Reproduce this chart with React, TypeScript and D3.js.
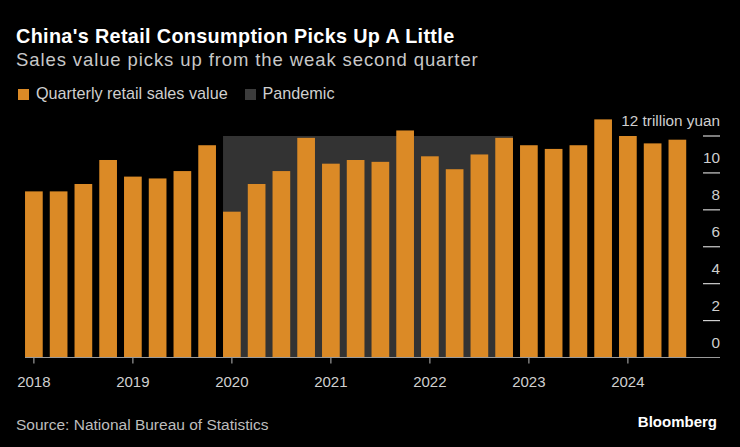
import React from "react";
import * as d3 from "d3";

const quarters: string[] = [
  "2018 Q1", "2018 Q2", "2018 Q3", "2018 Q4",
  "2019 Q1", "2019 Q2", "2019 Q3", "2019 Q4",
  "2020 Q1", "2020 Q2", "2020 Q3", "2020 Q4",
  "2021 Q1", "2021 Q2", "2021 Q3", "2021 Q4",
  "2022 Q1", "2022 Q2", "2022 Q3", "2022 Q4",
  "2023 Q1", "2023 Q2", "2023 Q3", "2023 Q4",
  "2024 Q1", "2024 Q2", "2024 Q3",
];

const salesValues: number[] = [
  9.0, 9.0, 9.4, 10.7,
  9.8, 9.7, 10.1, 11.5,
  7.9, 9.4, 10.1, 11.9,
  10.5, 10.7, 10.6, 12.3,
  10.9, 10.2, 11.0, 11.9,
  11.5, 11.3, 11.5, 12.9,
  12.0, 11.6, 11.8,
];

const yearTicks: string[] = ["2018", "2019", "2020", "2021", "2022", "2023", "2024"];
const yTickValues: number[] = [0, 2, 4, 6, 8, 10, 12];
const pandemicStart = "2020 Q1";
const pandemicEnd = "2022 Q4";
const pandemicTop = 12;

const W = 740;
const H = 447;
const ORANGE = "#DB8A26";
const FONT = "'Liberation Sans', Arial, Helvetica, sans-serif";

export default function App() {
  const x = d3
    .scaleBand<string>()
    .domain(quarters)
    .range([21.5, 689.75])
    .paddingInner(0.285)
    .paddingOuter(0.1425);
  const y = d3.scaleLinear().domain([0, 12]).range([357.5, 136]);
  const bw = x.bandwidth();

  const pX0 = x(pandemicStart) as number;
  const pX1 = (x(pandemicEnd) as number) + bw;

  return (
    <svg
      width={W}
      height={H}
      style={{ position: "fixed", left: 0, top: 0, display: "block" }}
      fontFamily={FONT}
    >
      <rect x={0} y={0} width={W} height={H} fill="#000" />

      <text x={16} y={42.5} fill="#fff" fontSize={19.8} fontWeight="bold" letterSpacing={0.35}>
        China's Retail Consumption Picks Up A Little
      </text>
      <text x={16} y={65.7} fill="#c8c8c8" fontSize={18.5} letterSpacing={0.9}>
        Sales value picks up from the weak second quarter
      </text>

      <rect x={18} y={89} width={11} height={11} fill={ORANGE} />
      <text x={36} y={99.3} fill="#cfcfcf" fontSize={16.2}>
        Quarterly retail sales value
      </text>
      <rect x={245} y={89} width={11} height={11} fill="#3c3c3c" />
      <text x={262.5} y={99.3} fill="#cfcfcf" fontSize={16.2}>
        Pandemic
      </text>

      <rect
        x={pX0}
        y={y(pandemicTop)}
        width={pX1 - pX0}
        height={y(0) - y(pandemicTop)}
        fill="#333333"
      />

      {quarters.map((q, i) => (
        <rect
          key={q}
          x={x(q) as number}
          y={y(salesValues[i])}
          width={bw}
          height={y(0) - y(salesValues[i])}
          fill={ORANGE}
        />
      ))}

      {yTickValues.map((v) => (
        <g key={v}>
          {v > 0 && (
            <line x1={703} x2={720} y1={y(v)} y2={y(v)} stroke="#d0d0d0" strokeWidth={1.2} />
          )}
          <text
            x={720}
            y={y(v) - 10}
            fill="#cfcfcf"
            fontSize={15.3}
            textAnchor="end"
          >
            {v === 12 ? "12 trillion yuan" : String(v)}
          </text>
        </g>
      ))}

      <line x1={25} x2={720} y1={y(0)} y2={y(0)} stroke="#9a9a9a" strokeWidth={1.2} />

      {yearTicks.map((yr) => {
        const cx = (x(`${yr} Q1`) as number) + bw / 2;
        return (
          <g key={yr}>
            <line x1={cx} x2={cx} y1={y(0)} y2={y(0) + 6} stroke="#9a9a9a" strokeWidth={1.2} />
            <text x={cx} y={386.5} fill="#cfcfcf" fontSize={15} textAnchor="middle">
              {yr}
            </text>
          </g>
        );
      })}

      <text x={16} y={430} fill="#bdbdbd" fontSize={15.5}>
        Source: National Bureau of Statistics
      </text>
      <text x={717} y={427.3} fill="#fff" fontSize={15} fontWeight="bold" textAnchor="end">
        Bloomberg
      </text>
    </svg>
  );
}
